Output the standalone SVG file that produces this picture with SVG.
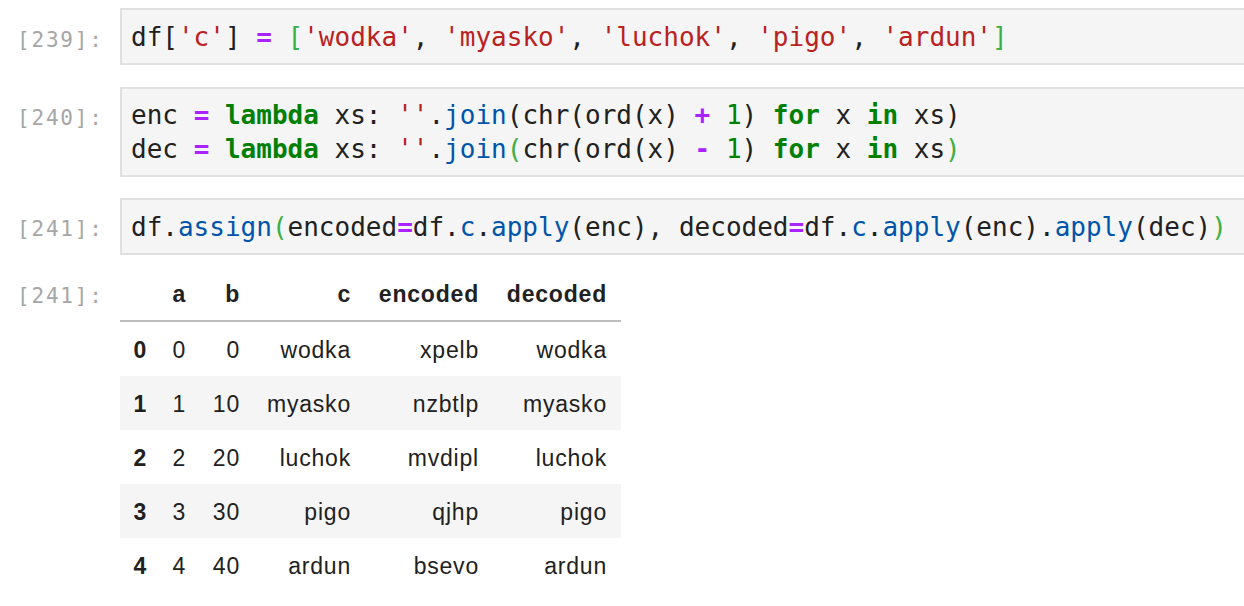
<svg xmlns="http://www.w3.org/2000/svg" width="1244" height="606" viewBox="0 0 1244 606">
<style>
.cell{fill:#f5f5f5;stroke:#e0e0e0;stroke-width:2}
.prompt{font-family:"DejaVu Sans Mono",monospace;font-size:21px;letter-spacing:1.8px;fill:#a6a6a6}
.code{font-family:"DejaVu Sans Mono",monospace;font-size:26px;fill:#212121}
.kw{fill:#008000;font-weight:bold}
.op{fill:#aa22ff;font-weight:bold}
.str{fill:#ba2121}
.num{fill:#008000}
.prop{fill:#0055aa}
.br{fill:#3cb043}
.tbl{font-family:"Liberation Sans",Arial,sans-serif;font-size:23px;letter-spacing:0.8px;fill:#212121;text-anchor:end}
.th{font-weight:bold}
.stripe{fill:#f5f5f5}
</style>
<rect width="1244" height="606" fill="#ffffff"/>

<g id="cell239">
<text class="prompt" x="17" y="47">[239]:</text>
<rect class="cell" x="121" y="9" width="1140" height="55"/>
<text class="code" x="131" y="46" xml:space="preserve">df[<tspan class="str">'c'</tspan>] <tspan class="op">=</tspan> <tspan class="br">[</tspan><tspan class="str">'wodka'</tspan>, <tspan class="str">'myasko'</tspan>, <tspan class="str">'luchok'</tspan>, <tspan class="str">'pigo'</tspan>, <tspan class="str">'ardun'</tspan><tspan class="br">]</tspan></text>
</g>

<g id="cell240">
<text class="prompt" x="17" y="125">[240]:</text>
<rect class="cell" x="121" y="88" width="1140" height="88"/>
<text class="code" x="131" y="124" xml:space="preserve">enc <tspan class="op">=</tspan> <tspan class="kw">lambda</tspan> xs: <tspan class="str">''</tspan>.<tspan class="prop">join</tspan>(chr(ord(x) <tspan class="op">+</tspan> <tspan class="num">1</tspan>) <tspan class="kw">for</tspan> x <tspan class="kw">in</tspan> xs)</text>
<text class="code" x="131" y="158" xml:space="preserve">dec <tspan class="op">=</tspan> <tspan class="kw">lambda</tspan> xs: <tspan class="str">''</tspan>.<tspan class="prop">join</tspan><tspan class="br">(</tspan>chr(ord(x) <tspan class="op">-</tspan> <tspan class="num">1</tspan>) <tspan class="kw">for</tspan> x <tspan class="kw">in</tspan> xs<tspan class="br">)</tspan></text>
</g>

<g id="cell241">
<text class="prompt" x="17" y="236">[241]:</text>
<rect class="cell" x="121" y="199" width="1140" height="55"/>
<text class="code" x="131" y="236" xml:space="preserve">df.<tspan class="prop">assign</tspan><tspan class="br">(</tspan>encoded<tspan class="op">=</tspan>df.<tspan class="prop">c</tspan>.<tspan class="prop">apply</tspan>(enc), decoded<tspan class="op">=</tspan>df.<tspan class="prop">c</tspan>.<tspan class="prop">apply</tspan>(enc).<tspan class="prop">apply</tspan>(dec)<tspan class="br">)</tspan></text>
</g>

<g id="output241">
<text class="prompt" x="17" y="303">[241]:</text>
<rect class="stripe" x="120" y="376" width="501" height="54"/>
<rect class="stripe" x="120" y="484" width="501" height="54"/>
<line x1="120" y1="321" x2="621" y2="321" stroke="#bdbdbd" stroke-width="2"/>
<g class="tbl">
<text class="th" x="186" y="302">a</text>
<text class="th" x="240" y="302">b</text>
<text class="th" x="351" y="302">c</text>
<text class="th" x="479" y="302">encoded</text>
<text class="th" x="607" y="302">decoded</text>

<text class="th" x="147" y="358">0</text>
<text x="186" y="358">0</text>
<text x="240" y="358">0</text>
<text x="351" y="358">wodka</text>
<text x="479" y="358">xpelb</text>
<text x="607" y="358">wodka</text>

<text class="th" x="147" y="412">1</text>
<text x="186" y="412">1</text>
<text x="240" y="412">10</text>
<text x="351" y="412">myasko</text>
<text x="479" y="412">nzbtlp</text>
<text x="607" y="412">myasko</text>

<text class="th" x="147" y="466">2</text>
<text x="186" y="466">2</text>
<text x="240" y="466">20</text>
<text x="351" y="466">luchok</text>
<text x="479" y="466">mvdipl</text>
<text x="607" y="466">luchok</text>

<text class="th" x="147" y="520">3</text>
<text x="186" y="520">3</text>
<text x="240" y="520">30</text>
<text x="351" y="520">pigo</text>
<text x="479" y="520">qjhp</text>
<text x="607" y="520">pigo</text>

<text class="th" x="147" y="574">4</text>
<text x="186" y="574">4</text>
<text x="240" y="574">40</text>
<text x="351" y="574">ardun</text>
<text x="479" y="574">bsevo</text>
<text x="607" y="574">ardun</text>
</g>
</g>
</svg>
